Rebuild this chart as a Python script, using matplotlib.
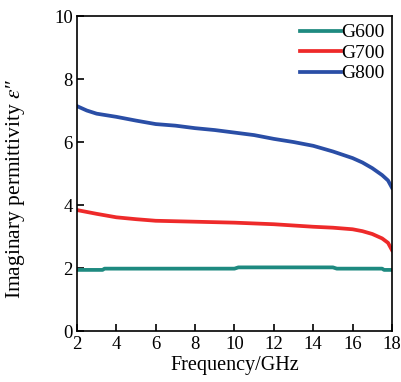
import matplotlib
matplotlib.use("Agg")
import matplotlib.pyplot as plt
import numpy as np

plt.rcParams['font.family'] = ['Liberation Serif', 'DejaVu Serif']
plt.rcParams['mathtext.fontset'] = 'stix'

# values
freq_800 = [2, 2.5, 3, 4, 5, 6, 7, 8, 9, 10, 11, 12, 13, 14, 15, 16, 16.5, 17, 17.5, 17.8, 18]
g800 = [7.14, 7.0, 6.9, 6.8, 6.68, 6.57, 6.52, 6.44, 6.38, 6.3, 6.22, 6.1, 6.0, 5.88, 5.7, 5.49, 5.35, 5.17, 4.95, 4.78, 4.55]

freq_700 = [2, 2.5, 3, 4, 5, 6, 8, 10, 12, 14, 15, 16, 16.5, 17, 17.5, 17.8, 18]
g700 = [3.84, 3.78, 3.72, 3.61, 3.55, 3.5, 3.47, 3.44, 3.39, 3.31, 3.28, 3.23, 3.17, 3.08, 2.94, 2.8, 2.57]

freq_600 = [2, 3.3, 3.4, 10, 10.2, 15, 15.2, 17.5, 17.6, 18]
g600 = [1.94, 1.94, 1.98, 1.98, 2.02, 2.02, 1.98, 1.98, 1.94, 1.94]

fig = plt.figure(figsize=(4.02, 3.82), dpi=100)
ax = fig.add_axes([0.1915, 0.1335, 0.7835, 0.8245])

ax.plot(freq_600, g600, '-', color='#1e8a80', lw=2.7, label='G600')
ax.plot(freq_700, g700, '-', color='#ee2a2a', lw=2.7, label='G700')
ax.plot(freq_800, g800, '-', color='#2a4ea6', lw=2.7, label='G800')

ax.set_xlim(2, 18)
ax.set_ylim(0, 10)
ax.set_xticks(np.arange(2, 19, 2))
ax.set_yticks(np.arange(0, 11, 2))
ax.tick_params(direction='in', length=5, width=1.2, labelsize=13.5, top=False, right=False)
ax.tick_params(axis='y', pad=3)
for s in ax.spines.values():
    s.set_linewidth(1.2)

ax.set_xlabel('Frequency/GHz', fontsize=14.5, labelpad=2)
ax.set_ylabel("Imaginary permittivity $\\varepsilon$\u2033", fontsize=15.5)
ax.yaxis.set_label_coords(-0.16, 0.45)

ax.legend(loc='upper right', frameon=False, fontsize=14, handlelength=2.1,
          handletextpad=0.0, labelspacing=0.15, borderaxespad=0.0)

plt.savefig('out.png', dpi=100)
